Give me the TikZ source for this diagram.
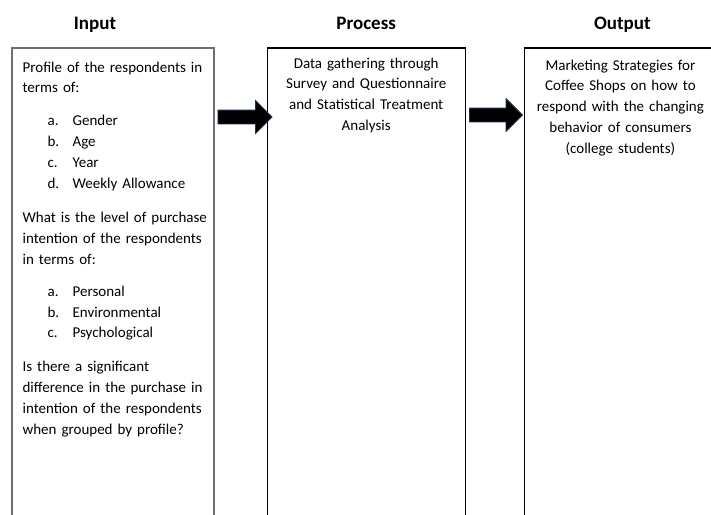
\documentclass[tikz,border=0pt]{standalone}
\usepackage{fontspec}
\setmainfont{Carlito}[WordSpace={0.85,1,1}]
\usetikzlibrary{positioning,shapes.arrows}
\definecolor{arrowblue}{HTML}{1F2F55}
\definecolor{framegray}{HTML}{6E6E6E}
\newcommand{\listentry}[2]{\hspace*{25pt}\makebox[25pt][l]{#1}#2}

\begin{document}
\begin{tikzpicture}[x=1pt,y=-1pt,
	box/.style={rectangle,draw,line width=1.2pt,minimum width=200pt,minimum height=480pt,inner sep=0pt},
	heading/.style={font=\bfseries\fontsize{19pt}{23pt}\selectfont,text height=0.7em,text depth=0.25em},
	body/.style={inner sep=0pt,font=\fontsize{15pt}{20.8pt}\selectfont},
	block arrow/.style={single arrow,draw=arrowblue,fill=black,line width=0.8pt,minimum height=54pt,text height=13pt,text depth=0pt,single arrow head extend=9.5pt,inner sep=0pt}]

	\useasboundingbox (0,0) rectangle (711,514);
	\clip (0,0) rectangle (711,514);

	\node (input box) [box,draw=framegray,minimum width=202pt] at (113,288) {};
	\node (process box) [box,right=52pt of input box,minimum width=198pt] {};
	\node (output box) [box,right=58pt of process box] {};

	\node (input label) [heading,above=12pt] at ([xshift=-18pt]input box.north) {Input};
	\node (process label) [heading,above=12pt] at (process box.north) {Process};
	\node (output label) [heading,above=12pt] at ([xshift=-2pt]output box.north) {Output};

	\node (input text) [body,anchor=north west,text width=192pt,align=left] at ([xshift=11pt,yshift=-14pt]input box.north west) {
		Profile of the respondents in\\
		terms of:\\[12pt]
		\listentry{a.}{Gender}\\
		\listentry{b.}{Age}\\
		\listentry{c.}{Year}\\
		\listentry{d.}{Weekly Allowance}\\[14pt]
		What is the level of purchase\\
		intention of the respondents\\
		in terms of:\\[11pt]
		\listentry{a.}{Personal}\\
		\listentry{b.}{Environmental}\\
		\listentry{c.}{Psychological}\\[13pt]
		Is there a significant\\
		difference in the purchase in\\
		intention of the respondents\\
		when grouped by profile?};

	\node (process text) [body,anchor=north,text width=195pt,align=center] at ([yshift=-10pt]process box.north) {
		Data gathering through\\
		Survey and Questionnaire\\
		and Statistical Treatment\\
		Analysis};

	\node (output text) [body,anchor=north,text width=195pt,align=center] at ([xshift=-4pt,yshift=-12pt]output box.north) {
		Marketing Strategies for\\
		Coffee Shops on how to\\
		respond with the changing\\
		behavior of consumers\\
		(college students)};

	\node (first arrow) [block arrow] at (241.5,117) {};
	\node (second arrow) [block arrow,minimum height=53pt] at (492.5,115) {};

\end{tikzpicture}
\end{document}
